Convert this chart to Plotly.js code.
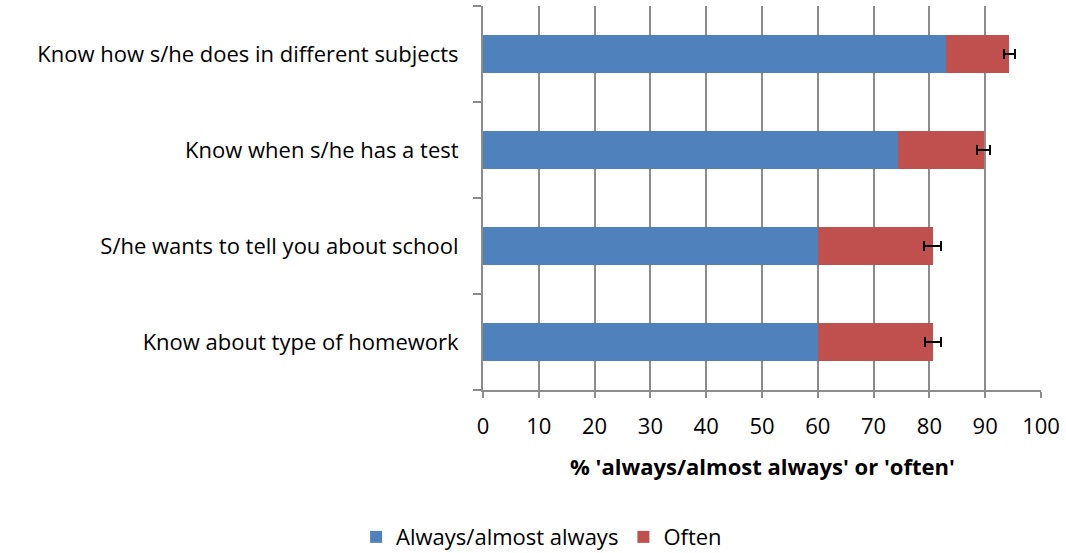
<!DOCTYPE html>
<html>
<head>
<meta charset="utf-8">
<script src="https://cdn.plot.ly/plotly-3.0.1.min.js"></script>
<style>html,body{margin:0;padding:0;background:#fff;}#chart{width:1066px;height:553px;}</style>
</head>
<body>
<div id="chart"></div>
<script>
const categories = [
  "Know about type of homework",
  "S/he wants to tell you about school",
  "Know when s/he has a test",
  "Know how s/he does in different subjects"
];
const alwaysValues = [60.0, 60.0, 74.4, 82.9];
const oftenValues = [20.6, 20.6, 15.3, 11.4];
const oftenErrors = [1.4, 1.5, 1.1, 1.0];
const xTicks = [0, 10, 20, 30, 40, 50, 60, 70, 80, 90, 100];

const FONT = "Open Sans, Noto Sans, Liberation Sans, sans-serif";
const FS = 22;

const traces = [
  {
    type: "bar", orientation: "h", name: "Always/almost always",
    y: categories, x: alwaysValues,
    marker: {color: "#4F81BD"}, width: 0.4
  },
  {
    type: "bar", orientation: "h", name: "Often",
    y: categories, x: oftenValues,
    marker: {color: "#C0504D"}, width: 0.4,
    error_x: {type: "data", array: oftenErrors, visible: true, color: "#000", thickness: 2, width: 5}
  }
];

const layout = {
  width: 1066, height: 553,
  margin: {l: 483, r: 25, t: 6, b: 163, pad: 0, autoexpand: false},
  paper_bgcolor: "#fff", plot_bgcolor: "#fff",
  barmode: "stack",
  showlegend: true,
  font: {family: FONT, size: FS, color: "#000"},
  xaxis: {
    range: [0, 100], tickvals: xTicks, ticktext: xTicks.map(String),
    showgrid: true, gridcolor: "#8c8c8c", gridwidth: 2,
    showline: true, linecolor: "#8c8c8c", linewidth: 2,
    ticks: "outside", ticklen: 6, tickcolor: "#8c8c8c", tickwidth: 2,
    ticklabelstandoff: 10,
    zeroline: false, tickfont: {size: FS, color: "#000", family: FONT},
    automargin: false, fixedrange: true
  },
  yaxis: {
    type: "category", categoryorder: "array", categoryarray: categories,
    showline: true, linecolor: "#8c8c8c", linewidth: 2,
    ticks: "outside", tickson: "boundaries", ticklen: 8, tickcolor: "#8c8c8c", tickwidth: 2,
    showgrid: false, ticklabelstandoff: 18,
    tickfont: {size: FS, color: "#000", family: FONT},
    automargin: false, fixedrange: true
  },
  legend: {
    orientation: "h", x: 0.105, xanchor: "center", y: -0.383, yanchor: "middle",
    font: {size: FS, color: "#000", family: FONT}, traceorder: "normal"
  },
  annotations: [{
    text: "<b>% 'always/almost always' or 'often'</b>",
    xref: "paper", yref: "paper", x: 0.5, y: -0.198,
    xanchor: "center", yanchor: "middle", showarrow: false,
    font: {size: FS, color: "#000", family: FONT}
  }]
};

Plotly.newPlot("chart", traces, layout, {displayModeBar: false, staticPlot: true});
</script>
</body>
</html>
